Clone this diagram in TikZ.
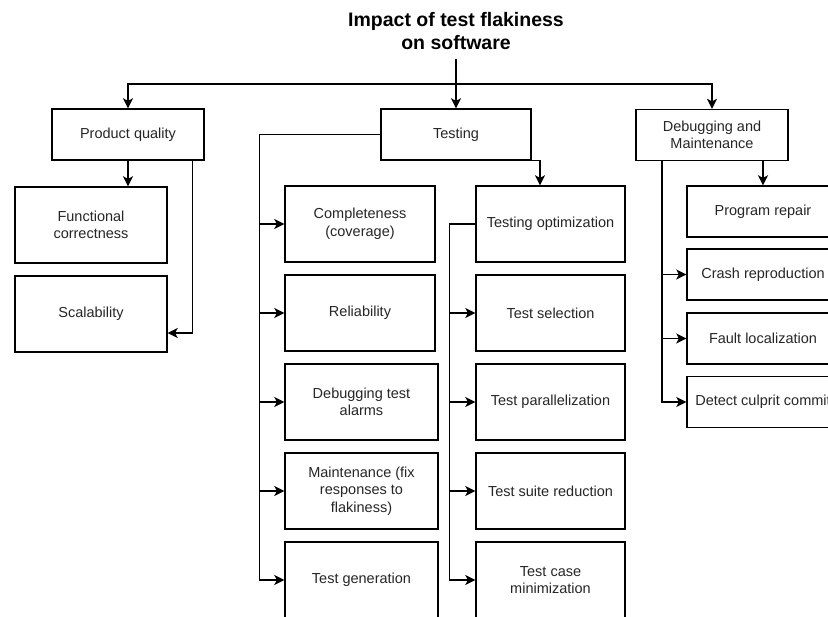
\documentclass[tikz,border=0pt]{standalone}
\usepackage{fontspec}
\setmainfont{Liberation Sans}
\usetikzlibrary{arrows.meta}
\begin{document}
\begin{tikzpicture}[x=1pt,y=-1pt,
  box/.style={draw=black, line width=1.4pt, fill=white, align=center, inner sep=2pt,
    font=\fontsize{14.5}{17.5}\selectfont, text=black!85},
  arr/.style={draw=black, line width=1.4pt, -{Stealth[length=10pt,width=10pt,inset=2.5pt]}},
  ln/.style={draw=black, line width=1.4pt}]
\clip (0,0) rectangle (828,617);
\fill[white] (0,0) rectangle (828,617);
% title
\node[font=\fontsize{19.5}{23}\selectfont\bfseries, align=center] (title) at (456,31) {Impact of test flakiness\\on software};
\coordinate (t0) at (456,59);
\coordinate (hub) at (456,84);
% level 1
\node[box, minimum width=152pt, minimum height=51pt] (pq) at (128,134.5) {Product quality};
\node[box, minimum width=150pt, minimum height=51pt] (te) at (456,134.5) {Testing};
\node[box, minimum width=152pt, minimum height=51pt] (dm) at (712,135) {Debugging and\\Maintenance};
% product quality children
\node[box, minimum width=152pt, minimum height=76pt] (fc) at (91,225) {Functional\\correctness};
\node[box, minimum width=152pt, minimum height=76pt] (sc) at (91,314) {Scalability};
% testing left column
\node[box, minimum width=150pt, minimum height=76pt] (cp) at (360,224) {Completeness\\(coverage)};
\node[box, minimum width=150pt, minimum height=76pt] (rl) at (360,313) {Reliability};
\node[box, minimum width=153pt, minimum height=76pt] (da) at (361.5,402) {Debugging test\\alarms};
\node[box, minimum width=153pt, minimum height=76pt] (mt) at (361.5,491) {Maintenance (fix\\responses to\\flakiness)};
\node[box, minimum width=153pt, minimum height=76pt] (tg) at (361.5,580) {Test generation};
% testing right column
\node[box, minimum width=149pt, minimum height=76pt] (to) at (550.5,224) {Testing optimization};
\node[box, minimum width=149pt, minimum height=76pt] (ts) at (550.5,313) {Test selection};
\node[box, minimum width=149pt, minimum height=76pt] (tp) at (550.5,402) {Test parallelization};
\node[box, minimum width=149pt, minimum height=76pt] (tr) at (550.5,491) {Test suite reduction};
\node[box, minimum width=149pt, minimum height=76pt] (tm) at (550.5,580) {Test case\\minimization};
% debugging column
\node[box, minimum width=152pt, minimum height=51pt] (pr) at (763,211.5) {Program repair};
\node[box, minimum width=152pt, minimum height=51pt] (cr) at (763,274.5) {Crash reproduction};
\node[box, minimum width=152pt, minimum height=51pt] (fl) at (763,338.5) {Fault localization};
\node[box, minimum width=152pt, minimum height=51pt] (dc) at (763,402) {Detect culprit commit};
% connectors: top
\draw[arr] (t0) -- (te.north);
\draw[arr] (hub) -| (pq.north);
\draw[arr] (hub) -| (dm.north);
% product quality
\draw[arr] (pq.south) -- (pq.south |- fc.north);
\draw[arr] ([xshift=-12pt]pq.south east) |- ([yshift=-19pt]sc.east);
% testing left
\draw[arr] (te.west) -| ([xshift=-25pt]tg.west) -- (tg.west);
\draw[arr] ([xshift=-25pt]cp.west) -- (cp.west);
\draw[arr] ([xshift=-25pt]rl.west) -- (rl.west);
\draw[arr] ([xshift=-25pt]da.west) -- (da.west);
\draw[arr] ([xshift=-25pt]mt.west) -- (mt.west);
% testing right
\draw[arr] (te.south east) -| ([xshift=-10.5pt]to.north);
\draw[arr] (to.west) -| ([xshift=-26pt]tm.west) -- (tm.west);
\draw[arr] ([xshift=-26pt]ts.west) -- (ts.west);
\draw[arr] ([xshift=-26pt]tp.west) -- (tp.west);
\draw[arr] ([xshift=-26pt]tr.west) -- (tr.west);
% debugging
\draw[arr] (dm.south -| pr.north) -- (pr.north);
\draw[arr] ([xshift=-50pt]dm.south) |- (dc.west);
\draw[arr] ([xshift=-25pt]cr.west) -- (cr.west);
\draw[arr] ([xshift=-25pt]fl.west) -- (fl.west);
\end{tikzpicture}
\end{document}
